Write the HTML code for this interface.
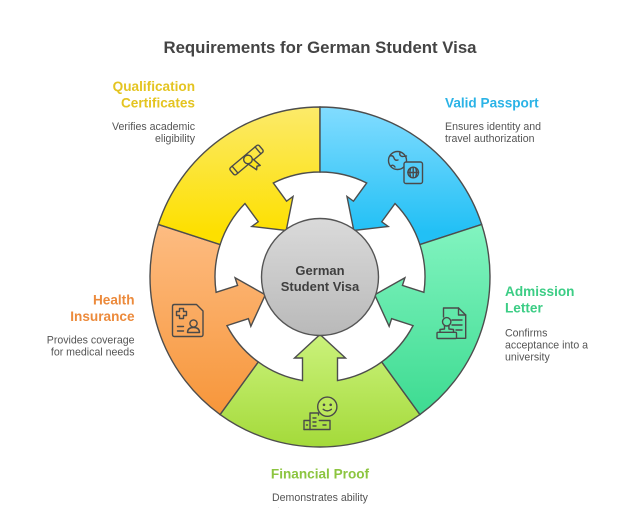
<!DOCTYPE html>
<html>
<head>
<meta charset="utf-8">
<style>
  html,body{margin:0;padding:0;background:#fff;}
  body{width:640px;height:508px;overflow:hidden;}
  svg{display:block;}
  text{font-family:"Liberation Sans", Arial, sans-serif;}
</style>
</head>
<body>
<svg width="640" height="508" viewBox="0 0 640 508" xmlns="http://www.w3.org/2000/svg">
  <defs>
    <linearGradient id="gLime" gradientUnits="userSpaceOnUse" x1="0" y1="57" x2="0" y2="170">
      <stop offset="0" stop-color="#cbf27c"/>
      <stop offset="1" stop-color="#a4da3a"/>
    </linearGradient>
    <linearGradient id="gOrange" gradientUnits="userSpaceOnUse" x1="0" y1="-53" x2="0" y2="138" gradientTransform="rotate(-72)">
      <stop offset="0" stop-color="#fdbc82"/>
      <stop offset="1" stop-color="#f7963a"/>
    </linearGradient>
    <linearGradient id="gYellow" gradientUnits="userSpaceOnUse" x1="0" y1="-170" x2="0" y2="-45" gradientTransform="rotate(-144)">
      <stop offset="0" stop-color="#fcea6a"/>
      <stop offset="1" stop-color="#fde000"/>
    </linearGradient>
    <linearGradient id="gBlue" gradientUnits="userSpaceOnUse" x1="0" y1="-170" x2="0" y2="-45" gradientTransform="rotate(-216)">
      <stop offset="0" stop-color="#82dcff"/>
      <stop offset="1" stop-color="#22c0f5"/>
    </linearGradient>
    <linearGradient id="gGreen" gradientUnits="userSpaceOnUse" x1="0" y1="-53" x2="0" y2="138" gradientTransform="rotate(-288)">
      <stop offset="0" stop-color="#82f4c0"/>
      <stop offset="1" stop-color="#3ddb91"/>
    </linearGradient>
    <linearGradient id="gCenter" x1="0" y1="0" x2="0" y2="1">
      <stop offset="0" stop-color="#dadada"/>
      <stop offset="1" stop-color="#b9b9b9"/>
    </linearGradient>
    <path id="seg" d="M99.92,137.53 A170,170 0 0,1 -99.92,137.53 L-61.72,84.95 A105,105 0 0,0 -17.5,103.53 L-17.5,81 L-25.5,81 L0,57.5 L25.5,81 L17.5,81 L17.5,103.53 A105,105 0 0,0 61.72,84.95 Z"/>
  </defs>

  <!-- Title -->
  <text x="320" y="53" text-anchor="middle" font-size="16.8" font-weight="bold" fill="#444">Requirements for German Student Visa</text>

  <!-- Ring segments -->
  <g transform="translate(320,277)" stroke="#4d4d4d" stroke-width="1.4" stroke-linejoin="miter">
    <use href="#seg" fill="url(#gLime)"/>
    <use href="#seg" fill="url(#gOrange)" transform="rotate(72)"/>
    <use href="#seg" fill="url(#gYellow)" transform="rotate(144)"/>
    <use href="#seg" fill="url(#gBlue)" transform="rotate(216)"/>
    <use href="#seg" fill="url(#gGreen)" transform="rotate(288)"/>
    <circle cx="0" cy="0" r="58.5" fill="url(#gCenter)" stroke="#555" stroke-width="1.4"/>
  </g>

  <!-- Center text -->
  <text x="320" y="275" text-anchor="middle" font-size="13" font-weight="bold" fill="#3f3f3f">German</text>
  <text x="320" y="291" text-anchor="middle" font-size="13" font-weight="bold" fill="#3f3f3f">Student Visa</text>

  <!-- Icons -->
  <g fill="none" stroke="#4a4a4a" stroke-width="1.4" stroke-linecap="round" stroke-linejoin="round">
    <!-- Certificate (diploma) -->
    <g transform="translate(246.5,160) rotate(-40)">
      <rect x="-19" y="-4.5" width="38" height="9" rx="2"/>
      <line x1="-15" y1="-4.5" x2="-15" y2="4.5"/>
      <line x1="15" y1="-4.5" x2="15" y2="4.5"/>
      <path d="M-1.5,3.5 L1.5,14 L4,11.5 L7,13 L5.5,3.5" fill="#fde51f"/>
      <circle cx="1.5" cy="0.5" r="4.3" fill="#fde62a"/>
    </g>

    <!-- Passport + globe -->
    <circle cx="397.5" cy="160.5" r="9"/>
    <path d="M390,156 q3,-1 4,2 q1,3 4,2 M400,152.5 q-1,3 2,4 q2,0 4.5,-0.5 M391,166 q2,-2 4,1"/>
    <rect x="404" y="162" width="18.5" height="21.5" rx="2" fill="#52cdf9"/>
    <circle cx="413.2" cy="172.5" r="5.3"/>
    <line x1="407.9" y1="172.5" x2="418.5" y2="172.5"/>
    <line x1="413.2" y1="167.2" x2="413.2" y2="177.8"/>
    <path d="M410.8,167.8 q-1.8,4.7 0,9.4 M415.6,167.8 q1.8,4.7 0,9.4"/>

    <!-- Admission letter -->
    <path d="M443.5,317 L443.5,308 L458.5,308 L465.7,315 L465.7,338.3 L456.7,338.3"/>
    <path d="M458.5,308 L458.5,315 L465.7,315"/>
    <line x1="452" y1="320" x2="462" y2="320"/>
    <line x1="452" y1="325" x2="462" y2="325"/>
    <line x1="456" y1="330" x2="462" y2="330"/>
    <circle cx="446.7" cy="321.8" r="4.2"/>
    <path d="M444.5,325.6 L444.5,329 L440,329.5 L440,332.3 M448.9,325.6 L448.9,329 L453.5,329.5 L453.5,332.3"/>
    <rect x="437" y="332.3" width="19.5" height="6.2" rx="1"/>

    <!-- Health insurance -->
    <path d="M174.5,304.5 L196.5,304.5 L203,311 L203,334.5 Q203,336.5 201,336.5 L174.5,336.5 Q172.5,336.5 172.5,334.5 L172.5,306.5 Q172.5,304.5 174.5,304.5 Z"/>
    <path d="M179.5,308.5 h4 v3 h3 v4 h-3 v3 h-4 v-3 h-3 v-4 h3 Z"/>
    <circle cx="193.5" cy="323.5" r="3.6"/>
    <path d="M187.5,332.5 q0,-5 6,-5 q6,0 6,5 Z"/>
    <line x1="177.5" y1="326.5" x2="183.5" y2="326.5"/>
    <line x1="177.5" y1="331" x2="183.5" y2="331"/>

    <!-- Financial proof -->
    <path d="M304,429.5 L304,420.5 L310,420.5 M310,429.5 L310,413 L318.5,413 L318.5,415"/>
    <path d="M319.3,420.5 L330,420.5 L330,429.5 L304,429.5"/>
    <line x1="313" y1="418" x2="316" y2="418"/>
    <line x1="313" y1="422" x2="316" y2="422"/>
    <line x1="313" y1="426" x2="316" y2="426"/>
    <line x1="306.5" y1="425" x2="307.5" y2="425"/>
    <line x1="323" y1="425" x2="326" y2="425"/>
    <circle cx="327.3" cy="406.7" r="9.6" fill="#bde85c"/>
    <circle cx="324" cy="404.8" r="0.6" fill="#4a4a4a"/>
    <circle cx="330.7" cy="404.8" r="0.6" fill="#4a4a4a"/>
    <path d="M323.2,409.3 q4.1,3.2 8.2,0"/>
  </g>

  <!-- Labels -->
  <g font-weight="bold" font-size="13.6">
    <text x="195" y="91" text-anchor="end" fill="#e4c421">Qualification</text>
    <text x="195" y="107.5" text-anchor="end" fill="#e4c421">Certificates</text>
    <text x="445" y="107.5" fill="#2bb3e6">Valid Passport</text>
    <text x="134.5" y="304.5" text-anchor="end" fill="#ec8a3b">Health</text>
    <text x="134.5" y="321" text-anchor="end" fill="#ec8a3b">Insurance</text>
    <text x="505" y="296" fill="#3ccd85">Admission</text>
    <text x="505" y="312.5" fill="#3ccd85">Letter</text>
    <text x="320" y="478.5" text-anchor="middle" fill="#8cc540">Financial Proof</text>
  </g>
  <g font-size="10.6" fill="#555">
    <text x="195" y="130" text-anchor="end">Verifies academic</text>
    <text x="195" y="142" text-anchor="end">eligibility</text>
    <text x="445" y="130">Ensures identity and</text>
    <text x="445" y="142">travel authorization</text>
    <text x="134.5" y="343.5" text-anchor="end">Provides coverage</text>
    <text x="134.5" y="355.5" text-anchor="end">for medical needs</text>
    <text x="505" y="336.5">Confirms</text>
    <text x="505" y="348.5">acceptance into a</text>
    <text x="505" y="360.5">university</text>
    <text x="320" y="501" text-anchor="middle">Demonstrates ability</text>
    <text x="320" y="515" text-anchor="middle">to cover expenses</text>
  </g>
</svg>
</body>
</html>
